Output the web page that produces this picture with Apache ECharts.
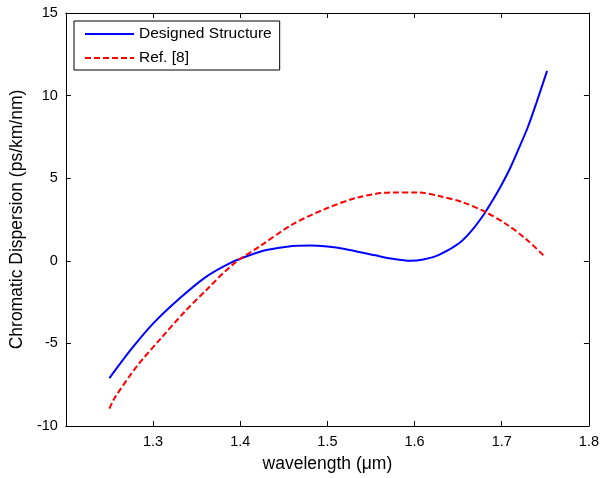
<!DOCTYPE html>
<html>
<head>
<meta charset="utf-8">
<script src="https://cdn.jsdelivr.net/npm/echarts@6/dist/echarts.min.js"></script>
<style>
  html, body { margin: 0; padding: 0; background: #fff; }
  #chart { width: 602px; height: 478px; }
</style>
</head>
<body>
<div id="chart"></div>
<script>
// 数据：波长 (um) 与色散 (ps/km/nm)
var designedX = [1.25, 1.275, 1.30, 1.33, 1.36, 1.39, 1.41, 1.43, 1.46, 1.48, 1.50, 1.52, 1.555, 1.575, 1.595, 1.61, 1.628, 1.651, 1.666, 1.68, 1.69, 1.70, 1.71, 1.72, 1.73, 1.74, 1.752];
var designedY = [-7.1, -5.35, -3.8, -2.3, -1.0, -0.1, 0.32, 0.65, 0.9, 0.93, 0.87, 0.72, 0.33, 0.12, 0.0, 0.08, 0.36, 1.06, 1.86, 2.85, 3.7, 4.62, 5.65, 6.85, 8.1, 9.6, 11.5];

var refX = [1.25, 1.256, 1.282, 1.309, 1.336, 1.362, 1.392, 1.423, 1.46, 1.498, 1.536, 1.574, 1.605, 1.628, 1.655, 1.681, 1.704, 1.727, 1.75];
var refY = [-8.95, -8.3, -6.35, -4.7, -3.1, -1.72, -0.2, 0.9, 2.2, 3.15, 3.85, 4.14, 4.14, 3.92, 3.55, 2.96, 2.26, 1.36, 0.22];

var seriesNames = ['Designed Structure', 'Ref. [8]'];

function pairs(xs, ys) {
  return xs.map(function (x, i) { return [x, ys[i]]; });
}

var font = 'Liberation Sans, Arial, sans-serif';
var myChart = echarts.init(document.getElementById('chart'));

// 四边框线，刻度朝内（类似 MATLAB）
var axisCommon = {
  axisLine: { show: true, onZero: false, lineStyle: { color: '#000', width: 1 } },
  axisTick: { show: true, inside: true, length: 5, lineStyle: { color: '#000' } },
  splitLine: { show: false }
};

var option = {
  backgroundColor: '#fff',
  animation: false,
  grid: { left: 64, right: 11, top: 13, bottom: 51 },
  legend: {
    left: 74,
    top: 21,
    orient: 'vertical',
    backgroundColor: '#fff',
    borderColor: '#000',
    borderWidth: 1,
    borderRadius: 0,
    padding: [5, 8, 4, 10],
    itemWidth: 49,
    itemHeight: 14,
    itemGap: 8,
    itemStyle: { opacity: 0 },
    textStyle: { fontFamily: font, fontSize: 15.5, color: '#000' },
    data: seriesNames
  },
  xAxis: [
    Object.assign({
      type: 'value',
      min: 1.2,
      max: 1.8,
      interval: 0.1,
      name: 'wavelength (\u03bcm)',
      nameLocation: 'middle',
      nameGap: 29,
      nameTextStyle: { fontFamily: font, fontSize: 17.5, color: '#000' },
      axisLabel: {
        fontFamily: font, fontSize: 14.5, color: '#000', margin: 8,
        formatter: function (v) {
          if (Math.abs(v - 1.2) < 1e-6) return '';
          return v.toFixed(1);
        }
      }
    }, axisCommon),
    Object.assign({
      type: 'value',
      position: 'top',
      min: 1.2,
      max: 1.8,
      interval: 0.1,
      axisLabel: { show: false }
    }, axisCommon)
  ],
  yAxis: [
    Object.assign({
      type: 'value',
      min: -10,
      max: 15,
      interval: 5,
      name: 'Chromatic Dispersion (ps/km/nm)',
      nameLocation: 'middle',
      nameGap: 35,
      nameTextStyle: { fontFamily: font, fontSize: 17.5, color: '#000' },
      axisLabel: { fontFamily: font, fontSize: 14.5, color: '#000', margin: 8 }
    }, axisCommon),
    Object.assign({
      type: 'value',
      position: 'right',
      min: -10,
      max: 15,
      interval: 5,
      axisLabel: { show: false }
    }, axisCommon)
  ],
  series: [
    {
      name: seriesNames[0],
      type: 'line',
      smooth: 0.3,
      showSymbol: false,
      symbol: 'none',
      color: '#0000ff',
      lineStyle: { color: '#0000ff', width: 2 },
      data: pairs(designedX, designedY)
    },
    {
      name: seriesNames[1],
      type: 'line',
      smooth: 0.3,
      showSymbol: false,
      symbol: 'none',
      color: '#ff0000',
      lineStyle: { color: '#ff0000', width: 2, type: [6, 3] },
      data: pairs(refX, refY)
    }
  ]
};
myChart.setOption(option);
</script>
</body>
</html>
